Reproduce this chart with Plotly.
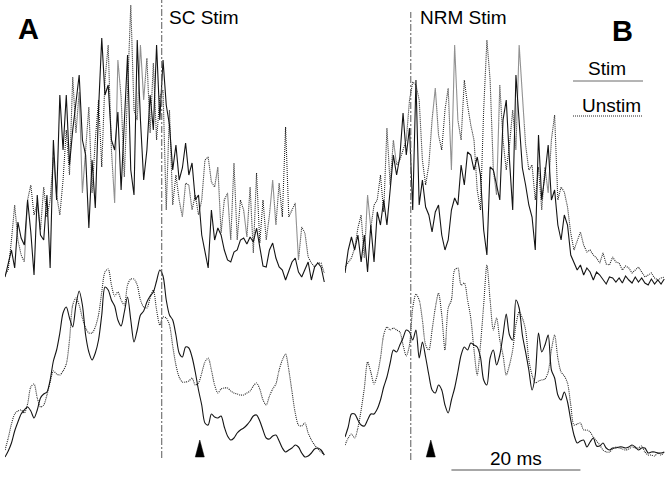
import numpy as np
import plotly.graph_objects as go

# ---------------- data (firing rate, a.u.; 0.5 ms bins) ----------------
BIN_MS = 0.5
N_BINS = 100
t = np.arange(N_BINS) * BIN_MS  # ms from start of each record

# Panel A (SC stimulation) - raw PSTH
A_top_stim = [13, 28, 40, 22, 68, 52, 45, 90, 58, 15,
              95, 55, 50, 95, 22, 150, 90, 195, 140, 195,
              125, 160, 185, 215, 150, 135, 62, 130, 82, 180,
              252, 195, 205, 150, 140, 178, 100, 170, 235, 120,
              95, 250, 170, 110, 140, 195, 160, 245, 170, 230,
              185, 165, 120, 145, 110, 122, 147, 115, 127, 90,
              95, 55, 40, 22, 80, 50, 62, 55, 40, 30,
              28, 38, 40, 50, 52, 46, 53, 48, 62, 43,
              24, 23, 40, 47, 32, 23, 20, 10, 20, 28,
              32, 18, 13, 20, 28, 10, 23, 27, 23, 8]
A_top_unstim = [15, 20, 50, 85, 50, 35, 28, 90, 105, 75,
                87, 60, 103, 73, 90, 133, 95, 75, 110, 160,
                115, 213, 157, 198, 97, 140, 183, 97, 150, 190,
                123, 210, 245, 140, 87, 230, 193, 113, 200, 285,
                180, 170, 245, 190, 232, 157, 227, 150, 193, 200,
                80, 180, 85, 115, 90, 73, 107, 105, 80, 95,
                75, 90, 130, 133, 108, 103, 123, 57, 90, 97,
                50, 127, 50, 90, 80, 53, 103, 37, 117, 47,
                90, 50, 75, 110, 65, 107, 73, 163, 73, 80,
                87, 30, 63, 57, 33, 27, 23, 27, 27, 17]
# Panel A - smoothed
A_bot_stim = [8, 14, 22, 34, 43, 51, 55, 58, 54, 47,
              55, 67, 71, 73, 85, 104, 115, 132, 152, 158,
              147, 138, 160, 174, 160, 130, 113, 105, 112, 125,
              150, 178, 175, 165, 159, 145, 139, 153, 168, 145,
              123, 135, 150, 154, 163, 169, 173, 184, 195, 189,
              165, 150, 145, 130, 112, 108, 118, 117, 108, 93,
              75, 60, 42, 40, 51, 48, 47, 49, 38, 29,
              25, 27, 32, 35, 37, 40, 44, 49, 50, 44,
              35, 27, 26, 29, 30, 24, 17, 13, 15, 17,
              20, 18, 12, 8, 9, 12, 16, 17, 15, 10]
A_bot_unstim = [15, 27, 41, 51, 54, 55, 52, 61, 78, 81,
                67, 58, 60, 70, 83, 94, 91, 90, 94, 101,
                125, 160, 167, 160, 147, 137, 132, 132, 138, 150,
                173, 193, 196, 180, 169, 173, 165, 160, 180, 186,
                186, 180, 165, 158, 157, 167, 175, 155, 140, 148,
                147, 140, 119, 100, 88, 83, 83, 84, 87, 80,
                82, 92, 103, 107, 95, 80, 72, 76, 77, 77,
                74, 72, 71, 70, 70, 72, 74, 79, 82, 76,
                65, 60, 69, 76, 81, 95, 105, 111, 95, 73,
                52, 40, 39, 42, 32, 25, 20, 16, 13, 10]

# Panel B (NRM stimulation) - raw PSTH
B_top_stim = [17, 40, 53, 40, 55, 28, 55, 18, 65, 28,
              78, 65, 90, 65, 100, 135, 115, 133, 177, 135,
              162, 80, 210, 85, 110, 83, 75, 58, 78, 85,
              55, 40, 50, 80, 92, 85, 125, 105, 138, 135,
              120, 133, 115, 60, 35, 123, 120, 105, 90, 170,
              190, 130, 80, 215, 170, 122, 105, 85, 73, 40,
              155, 90, 115, 145, 90, 100, 65, 50, 75, 65,
              35, 28, 20, 25, 15, 22, 18, 10, 18, 15,
              11, 6, 13, 12, 8, 12, 7, 14, 10, 7,
              13, 8, 12, 7, 5, 11, 6, 10, 6, 11]
B_top_unstim = [23, 28, 32, 42, 62, 75, 32, 95, 62, 85,
                90, 115, 78, 162, 105, 150, 125, 130, 140, 150,
                190, 208, 205, 190, 130, 105, 125, 170, 202, 155,
                140, 180, 202, 120, 245, 170, 150, 210, 185, 165,
                150, 100, 80, 180, 250, 210, 120, 95, 205, 150,
                120, 145, 180, 140, 245, 190, 145, 120, 125, 90,
                123, 80, 123, 97, 150, 175, 90, 103, 98, 83,
                57, 40, 48, 58, 45, 38, 40, 35, 32, 27,
                37, 26, 25, 33, 28, 27, 20, 24, 22, 17,
                20, 23, 18, 13, 15, 17, 12, 10, 12, 13]
# Panel B - smoothed
B_bot_stim = [28, 38, 51, 51, 45, 40, 39, 45, 51, 51,
              56, 65, 78, 88, 102, 115, 113, 120, 127, 135,
              133, 125, 135, 107, 123, 108, 90, 75, 72, 80,
              75, 60, 52, 65, 77, 93, 110, 118, 115, 122,
              120, 118, 108, 85, 80, 107, 115, 100, 110, 130,
              151, 130, 125, 165, 157, 130, 113, 95, 75, 90,
              132, 113, 120, 130, 95, 87, 70, 65, 73, 63,
              45, 30, 22, 24, 25, 18, 23, 27, 19, 19,
              22, 17, 15, 17, 17, 18, 18, 17, 18, 20,
              18, 15, 17, 17, 12, 13, 13, 12, 12, 13]
B_bot_unstim = [20, 27, 31, 27, 37, 55, 77, 103, 93, 81,
                90, 107, 130, 138, 135, 137, 135, 133, 120, 109,
                120, 157, 171, 165, 145, 120, 115, 135, 157, 172,
                150, 115, 157, 165, 195, 197, 180, 182, 165, 147,
                115, 90, 120, 160, 200, 165, 135, 147, 125, 110,
                90, 100, 115, 140, 153, 147, 135, 105, 90, 82,
                84, 85, 86, 93, 115, 130, 107, 93, 89, 82,
                60, 40, 41, 42, 35, 35, 33, 28, 24, 20,
                15, 13, 13, 16, 18, 17, 16, 15, 16, 18,
                17, 17, 19, 13, 10, 10, 9, 12, 10, 13]

stim_time_A = 24.3   # ms, SC stimulation onset
stim_time_B = 10.2   # ms, NRM stimulation onset
arrow_time_A = 30.2  # ms
arrow_time_B = 13.3  # ms
scale_start = 16.5   # ms (panel B time base)
scale_len = 20       # ms

panel_labels = ["A", "B"]
stim_labels = ["SC Stim", "NRM Stim"]
legend_labels = ["Stim", "Unstim"]

# ---------------- figure ----------------
W, H = 669, 477
FONT = "Liberation Sans, Arial, Helvetica, sans-serif"
solid = dict(color="#141414", width=1.1)
dotted = dict(color="#242424", width=1.1, dash="1px,1px")

fig = go.Figure()


def add(y, xa, ya, style, smooth=False):
    line = dict(style)
    if smooth:
        line.update(shape="spline", smoothing=0.8)
    fig.add_trace(go.Scatter(x=t, y=y, xaxis=xa, yaxis=ya, mode="lines",
                             line=line, hoverinfo="skip", showlegend=False))


add(A_top_unstim, "x", "y", dotted)
add(A_top_stim, "x", "y", solid)
add(A_bot_unstim, "x", "y2", dotted, True)
add(A_bot_stim, "x", "y2", solid, True)
add(B_top_unstim, "x2", "y3", dotted)
add(B_top_stim, "x2", "y3", solid)
add(B_bot_unstim, "x2", "y4", dotted, True)
add(B_bot_stim, "x2", "y4", solid, True)

PX_PER_MS = 6.45
hidden = dict(visible=False, fixedrange=True)
fig.update_layout(
    width=W, height=H, autosize=False,
    margin=dict(l=0, r=0, t=0, b=0, pad=0),
    paper_bgcolor="white", plot_bgcolor="rgba(0,0,0,0)",
    showlegend=False,
    xaxis=dict(domain=[5 / W, 330 / W], range=[0, 325 / PX_PER_MS], **hidden),
    xaxis2=dict(domain=[345 / W, 1], range=[0, 324 / PX_PER_MS], **hidden),
    yaxis=dict(domain=[187 / H, 1], range=[0, 290], anchor="x", **hidden),
    yaxis2=dict(domain=[12 / H, 227 / H], range=[0, 215], anchor="x", **hidden),
    yaxis3=dict(domain=[187 / H, 1], range=[0, 290], anchor="x2", **hidden),
    yaxis4=dict(domain=[12 / H, 227 / H], range=[0, 215], anchor="x2", **hidden),
)


def py(p):
    return 1 - p / H


stim_line = dict(color="#5a5a5a", width=1, dash="7px,2px,2px,2px")
fig.add_shape(type="line", xref="x", yref="paper", x0=stim_time_A, x1=stim_time_A,
              y0=py(458), y1=1, line=stim_line)
fig.add_shape(type="line", xref="x2", yref="paper", x0=stim_time_B, x1=stim_time_B,
              y0=py(460), y1=py(12), line=stim_line)

# legend sample lines
fig.add_shape(type="line", xref="paper", yref="paper", x0=573 / W, x1=643 / W,
              y0=py(81), y1=py(81), line=dict(color="#6a6a6a", width=1))
fig.add_shape(type="line", xref="paper", yref="paper", x0=573 / W, x1=643 / W,
              y0=py(116), y1=py(116), line=dict(color="#242424", width=1, dash="1px,1px"))

# scale bar
fig.add_shape(type="line", xref="x2", yref="paper", x0=scale_start, x1=scale_start + scale_len,
              y0=py(470), y1=py(470), line=dict(color="#8a8a8a", width=1.5))

# arrowheads
for xr, ta in (("x", arrow_time_A), ("x2", arrow_time_B)):
    hw = 0.7
    path = (f"M {ta - hw},{py(457)} L {ta + hw},{py(457)} L {ta},{py(440)} Z")
    fig.add_shape(type="path", xref=xr, yref="paper", path=path,
                  fillcolor="black", line=dict(color="black", width=0.5))

txt = dict(family=FONT, size=19, color="black")
bold = dict(family=FONT, size=29, color="black")
ann = [
    dict(text=f"<b>{panel_labels[0]}</b>", x=28.5 / W, y=py(29), xref="paper", yref="paper",
         xanchor="center", yanchor="middle", font=bold),
    dict(text=f"<b>{panel_labels[1]}</b>", x=622 / W, y=py(31), xref="paper", yref="paper",
         xanchor="center", yanchor="middle", font=bold),
    dict(text=stim_labels[0], x=stim_time_A, xref="x", xshift=5, y=py(18), yref="paper",
         xanchor="left", yanchor="middle", font=txt),
    dict(text=stim_labels[1], x=stim_time_B, xref="x2", xshift=7, y=py(18), yref="paper",
         xanchor="left", yanchor="middle", font=txt),
    dict(text=legend_labels[0], x=607 / W, y=py(68.5), xref="paper", yref="paper",
         xanchor="center", yanchor="middle", font=txt),
    dict(text=legend_labels[1], x=611.5 / W, y=py(105.5), xref="paper", yref="paper",
         xanchor="center", yanchor="middle", font=txt),
    dict(text=f"{scale_len} ms", x=scale_start + scale_len / 2, xref="x2", y=py(458.5), yref="paper",
         xanchor="center", yanchor="middle", font=txt),
]
for a in ann:
    a["showarrow"] = False
    fig.add_annotation(**a)

fig.write_html("out.html",
               config={"displayModeBar": False, "staticPlot": True},
               post_script="document.body.style.margin='0';document.body.style.overflow='hidden';")
